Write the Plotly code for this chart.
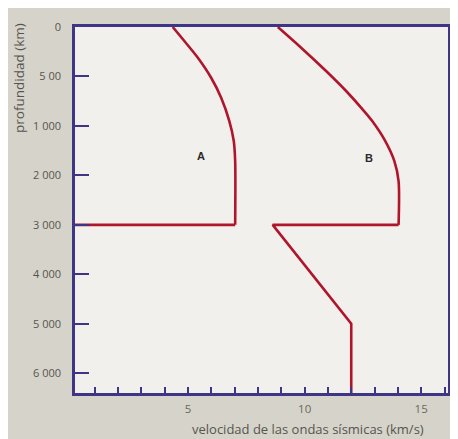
import numpy as np
import plotly.graph_objects as go

# Axis tick labels (depth, km) – drawn equally spaced in the original chart
tick_km = [0, 500, 1000, 2000, 3000, 4000, 5000, 6000, 7000]
tick_text = ["0", "5 00", "1 000", "2 000", "3 000", "4 000", "5 000", "6 000"]

# Curve A (S waves): velocity km/s vs depth km
a_curve_v = [4.34, 4.84, 5.42, 5.99, 6.42, 6.77, 6.96, 7.02, 7.02]
a_curve_km = [0, 142, 311, 513, 715, 951, 1306, 1710, 3000]
a_line_v = [7.02, 0.0]
a_line_km = [3000, 3000]

# Curve B (P waves)
b_curve_v = [8.85, 9.85, 10.92, 11.78, 12.55, 12.9, 13.46, 13.85, 14.03, 14.03]
b_curve_km = [0, 209, 445, 647, 850, 951, 1306, 1710, 2115, 3000]
b_line_v = [14.03, 8.63, 12.0, 12.0]
b_line_km = [3000, 3000, 5000, 6400]

label_names = ["A", "B"]
label_v = [5.56, 12.77]
label_km = [1610, 1650]


def axis_pos(km):
    # chart's own (non-linear) depth scale: equally spaced tick labels
    return np.interp(km, tick_km, np.arange(len(tick_km)))


RED = "#b0162b"
BLUE = "#3f3587"
TXT = "#555550"

fig = go.Figure()
for v, km, shape in [(a_curve_v, a_curve_km, "spline"), (a_line_v, a_line_km, "linear"),
                     (b_curve_v, b_curve_km, "spline"), (b_line_v, b_line_km, "linear")]:
    fig.add_trace(go.Scatter(x=v, y=axis_pos(km), mode="lines",
                             line=dict(color=RED, width=2.6, shape=shape, smoothing=0.8),
                             showlegend=False, hoverinfo="skip"))

for name, v, km in zip(label_names, label_v, label_km):
    fig.add_annotation(x=v, y=float(axis_pos(km)), text=f"<b>{name}</b>", showarrow=False,
                       font=dict(family="Liberation Sans, Arial", size=11, color="#2a2a2a"))

fig.add_annotation(xref="paper", yref="paper", x=0.625, y=-0.098, xanchor="center", yanchor="middle",
                   text="velocidad de las ondas sísmicas (km/s)", showarrow=False,
                   font=dict(family="Open Sans, Liberation Sans", size=13, color=TXT))
fig.add_annotation(xref="paper", yref="paper", x=-0.150, y=0.861, xanchor="center", yanchor="middle",
                   text="profundidad (km)", textangle=-90, showarrow=False,
                   font=dict(family="Open Sans, Liberation Sans", size=13.5, color=TXT))

fig.update_xaxes(range=[0.15, 16.15], tickvals=[5, 10, 15], ticktext=["5", "10", "15"],
                 ticks="inside", ticklen=6, tickwidth=1.5, tickcolor=BLUE,
                 minor=dict(dtick=1, tick0=0, ticks="inside", ticklen=6, tickwidth=1.5, tickcolor=BLUE),
                 showgrid=False, zeroline=False, showline=True, mirror=True, automargin=False,
                 linecolor=BLUE, linewidth=2.5, ticklabelstandoff=3,
                 tickfont=dict(family="Open Sans, Liberation Sans", size=11.5, color="#6a6a58"))
fig.update_yaxes(range=[7.40, 0], tickvals=list(range(len(tick_text))), ticktext=tick_text,
                 ticks="inside", ticklen=14, tickwidth=1.5, tickcolor=BLUE,
                 showgrid=False, zeroline=False, showline=True, mirror=True, automargin=False,
                 linecolor=BLUE, linewidth=2.5, ticklabelstandoff=9,
                 tickfont=dict(family="Open Sans, Liberation Sans", size=11, color=TXT))

fig.update_layout(width=458, height=439, margin=dict(l=67, r=18, t=19, b=54),
                  paper_bgcolor="#d6d3ca", plot_bgcolor="#f2f0ed")

fig.write_html("out.html")
